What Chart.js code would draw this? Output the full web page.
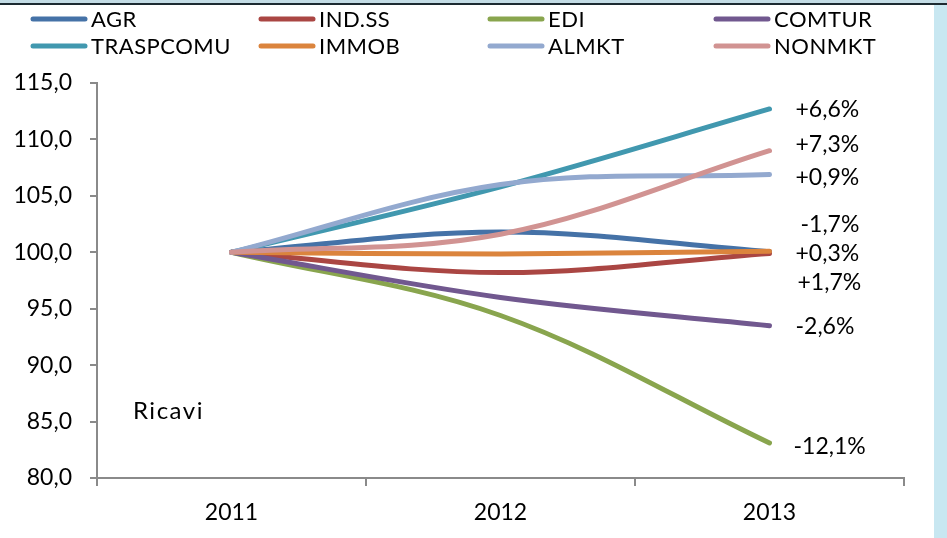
<!DOCTYPE html>
<html>
<head>
<meta charset="utf-8">
<script src="https://cdn.jsdelivr.net/npm/chart.js@4.4.1/dist/chart.umd.min.js"></script>
<style>
html,body{margin:0;padding:0;background:#fff;}
#wrap{width:947px;height:538px;position:relative;}
</style>
</head>
<body>
<div id="wrap"><canvas id="c" width="947" height="538"></canvas></div>
<script>
// ---- data ----
const years = ['2011', '2012', '2013'];
const seriesNames = ['AGR', 'IND.SS', 'EDI', 'COMTUR', 'TRASPCOMU', 'IMMOB', 'ALMKT', 'NONMKT'];
const agr = [100, 101.8, 100.05];
const indss = [100, 98.2, 99.9];
const edi = [100, 94.4, 83.1];
const comtur = [100, 96.0, 93.5];
const traspcomu = [100, 105.8, 112.7];
const immob = [100, 99.85, 100.1];
const almkt = [100, 106.0, 106.9];
const nonmkt = [100, 101.6, 109.0];
const changeLabels = ['-1,7%', '+1,7%', '-12,1%', '-2,6%', '+6,6%', '+0,3%', '+0,9%', '+7,3%'];
const yTicks = [80, 85, 90, 95, 100, 105, 110, 115];
const panelTitle = 'Ricavi';

// ---- styling / layout (not data) ----
const colors = ['#4572A7', '#AA4643', '#89A54E', '#71588F', '#4198AF', '#DB843D', '#93A9CF', '#D19392'];
const labelNudgeY = [-27, 29, 4, 1, 1, 2, 3, -6];
const labelNudgeX = [5, 2, -2, 0, 0, 0, 0, 0];
const FONT = 'Lato, "Open Sans", sans-serif';

const values = [agr, indss, edi, comtur, traspcomu, immob, almkt, nonmkt];

const bgPlugin = {
  id: 'bg',
  beforeDraw(chart) {
    const ctx = chart.ctx;
    ctx.save();
    ctx.fillStyle = '#ffffff';
    ctx.fillRect(0, 0, chart.width, chart.height);
    ctx.fillStyle = '#c3dce5';
    ctx.fillRect(0, 0, chart.width, 3);
    ctx.fillStyle = '#1c2a31';
    ctx.fillRect(0, 3, chart.width, 2);
    ctx.fillStyle = '#c8e7f1';
    ctx.fillRect(934, 5, chart.width - 934, chart.height - 5);
    ctx.restore();
  }
};

const legendPlugin = {
  id: 'gridLegend',
  afterDraw(chart) {
    const ctx = chart.ctx;
    const colX = [30, 258, 487, 713];
    const rowY = [19, 46];
    ctx.save();
    ctx.font = '22px ' + FONT;
    ctx.textBaseline = 'middle';
    ctx.textAlign = 'left';
    if ('letterSpacing' in ctx) ctx.letterSpacing = '0.5px';
    seriesNames.forEach((name, i) => {
      const x = colX[i % 4], y = rowY[Math.floor(i / 4)];
      ctx.strokeStyle = colors[i];
      ctx.lineWidth = 5;
      ctx.lineCap = 'round';
      ctx.beginPath();
      ctx.moveTo(x + 3, y);
      ctx.lineTo(x + 55, y);
      ctx.stroke();
      ctx.fillStyle = '#000';
      ctx.fillText(name, x + 61, y + 1);
    });
    ctx.restore();
  }
};

const labelPlugin = {
  id: 'endLabels',
  afterDatasetsDraw(chart) {
    const ctx = chart.ctx;
    ctx.save();
    ctx.font = '23px ' + FONT;
    ctx.fillStyle = '#000';
    ctx.textBaseline = 'middle';
    ctx.textAlign = 'left';
    chart.data.datasets.forEach((ds, i) => {
      const meta = chart.getDatasetMeta(i);
      const pt = meta.data[meta.data.length - 1];
      ctx.fillText(changeLabels[i], pt.x + 26 + labelNudgeX[i], pt.y + labelNudgeY[i]);
    });
    // panel title
    const xs = chart.scales.x, ys = chart.scales.y;
    ctx.font = '24px ' + FONT;
    if ('letterSpacing' in ctx) ctx.letterSpacing = '1.5px';
    ctx.fillText(panelTitle, xs.left + 36, ys.getPixelForValue(85.9));
    ctx.restore();
  }
};

new Chart(document.getElementById('c'), {
  type: 'line',
  data: {
    labels: years,
    datasets: seriesNames.map((name, i) => ({
      label: name,
      data: values[i],
      borderColor: colors[i],
      backgroundColor: colors[i],
      borderWidth: 5,
      borderCapStyle: 'round',
      borderJoinStyle: 'round',
      tension: 0.35,
      pointRadius: 0,
      pointHoverRadius: 0,
      fill: false,
      order: seriesNames.length - 1 - i
    }))
  },
  options: {
    responsive: false,
    maintainAspectRatio: false,
    animation: false,
    events: [],
    layout: { padding: { top: 83, right: 43, left: 0, bottom: 0 } },
    plugins: { legend: { display: false }, tooltip: { enabled: false } },
    scales: {
      x: {
        offset: true,
        grid: { display: true, offset: true, drawOnChartArea: false, drawTicks: true, tickLength: 8, color: '#8a8a8a', lineWidth: 2 },
        border: { display: true, color: '#8a8a8a', width: 2 },
        ticks: { color: '#000', font: { family: FONT, size: 23 }, padding: 13, maxRotation: 0 },
        afterFit(s) { s.height = 60; }
      },
      y: {
        min: yTicks[0],
        max: yTicks[yTicks.length - 1],
        afterBuildTicks(s) { s.ticks = yTicks.map(v => ({ value: v })); },
        grid: { display: true, drawOnChartArea: false, drawTicks: true, tickLength: 7, color: '#8a8a8a', lineWidth: 2 },
        border: { display: true, color: '#8a8a8a', width: 2 },
        ticks: {
          color: '#000',
          font: { family: FONT, size: 23 },
          padding: 18,
          callback: v => Number(v).toFixed(1).replace('.', ',')
        },
        afterFit(s) { s.width = 97; }
      }
    }
  },
  plugins: [bgPlugin, legendPlugin, labelPlugin]
});
</script>
</body>
</html>
